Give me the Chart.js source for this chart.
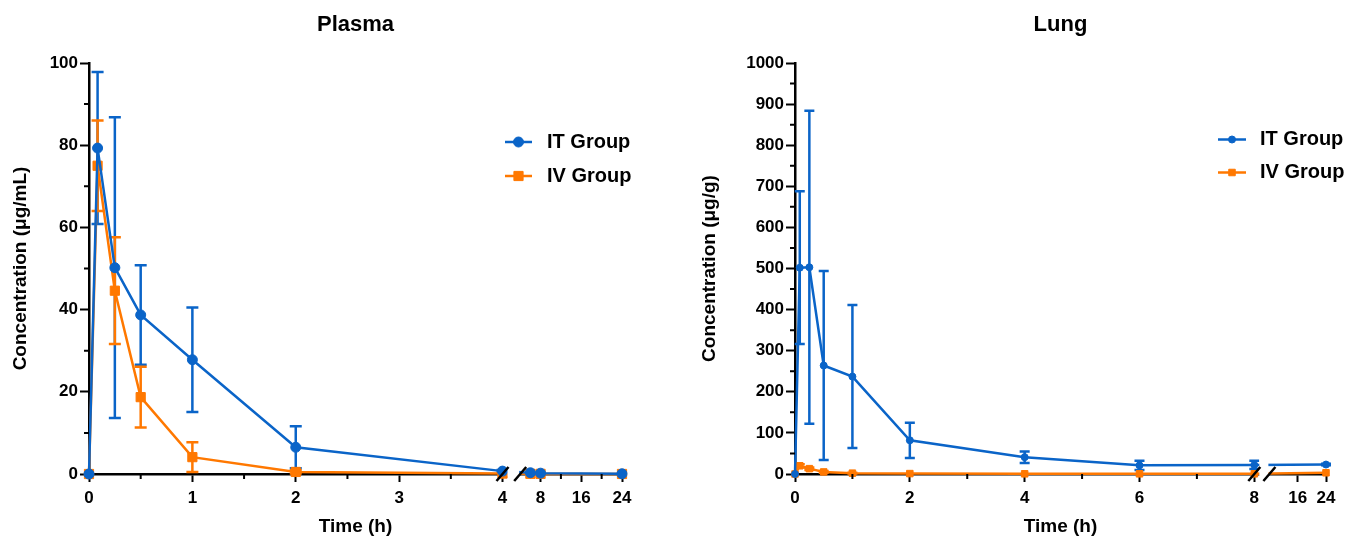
<!DOCTYPE html>
<html>
<head>
<meta charset="utf-8">
<script src="https://cdn.jsdelivr.net/npm/chart.js@4.4.0/dist/chart.umd.min.js"></script>
<style>
  body { margin: 0; background: #fff; }
  #wrap { position: relative; width: 1354px; height: 538px; }
  canvas { position: absolute; top: 0; }
</style>
</head>
<body>
<div id="wrap">
  <canvas id="plasma" width="680" height="538" style="left:0"></canvas>
  <canvas id="lung" width="674" height="538" style="left:680px"></canvas>
</div>
<script>
// sampling times (h)
const times = [0, 0.083, 0.25, 0.5, 1, 2, 4, 6, 8, 24];
const groupLabels = ['IT Group', 'IV Group'];

// plasma, ug/mL (mean, SD)
const plasmaIT   = [0, 79.3, 50.2, 38.7, 27.8, 6.5, 0.7, 0.3, 0.2, 0.05];
const plasmaITSd = [0, 18.5, 36.6, 12.1, 12.7, 5.1, 0.3, 0, 0, 0];
const plasmaIV   = [0, 75.0, 44.6, 18.7, 4.1, 0.5, 0.1, 0.05, 0.03, 0.01];
const plasmaIVSd = [0, 11.0, 13.0, 7.4, 3.6, 0.4, 0, 0, 0, 0];

// lung, ug/g (mean, SD)
const lungIT   = [0, 502, 503, 264, 237, 82, 41, 21, 22, 23];
const lungITSd = [0, 186, 381, 230, 174, 43, 14, 11, 10, 2];
const lungIV   = [0, 20, 13, 5, 2, 1, 0.5, 0.5, 0.5, 3];
const lungIVSd = [0, 4, 3, 2, 1, 0, 0, 0, 0, 0];

// axis ticks
const plasmaXTicks = [0, 1, 2, 3, 4, 8, 16, 24];
const plasmaXMinor = [0.5, 1.5, 2.5, 3.5, 12, 20];
const plasmaYMinor = [10, 30, 50, 70, 90];
const lungXTicks = [0, 2, 4, 6, 8, 16, 24];
const lungXMinor = [1, 3, 5, 7];
const lungYMinor = [50, 150, 250, 350, 450, 550, 650, 750, 850, 950];

const BLUE = '#0a64c8';
const ORANGE = '#ff7800';
const FONT = "'Liberation Sans', Arial, sans-serif";

// linear scale with one break: [min, at] -> [0, end], [at, max] -> [start, 1]
class BrokenScale extends Chart.LinearScale {
  getPixelForValue(value) {
    const b = this.options.brk;
    let dec;
    if (value <= b.at) dec = (value - this.min) / (b.at - this.min) * b.end;
    else dec = b.start + (value - b.at) / (this.max - b.at) * (1 - b.start);
    return this.getPixelForDecimal(dec);
  }
  getValueForPixel(pixel) {
    const b = this.options.brk;
    const dec = this.getDecimalForPixel(pixel);
    if (dec <= b.end) return this.min + dec / b.end * (b.at - this.min);
    return b.at + (dec - b.start) / (1 - b.start) * (this.max - b.at);
  }
}
BrokenScale.id = 'broken';
BrokenScale.defaults = Chart.LinearScale.defaults;
Chart.register(BrokenScale);

const pts = (vals) => times.map((t, i) => ({x: t, y: vals[i]}));

function errorBars(cap) {
  return {
    id: 'errorBars',
    beforeDatasetsDraw(chart) {
      const {ctx, scales: {x, y}} = chart;
      chart.data.datasets.forEach(ds => {
        ctx.save();
        ctx.strokeStyle = ds.borderColor;
        ctx.lineWidth = 2.5;
        ctx.beginPath();
        ds.data.forEach((p, i) => {
          const sd = ds.sd[i];
          if (!sd) return;
          const px = x.getPixelForValue(p.x);
          const y1 = y.getPixelForValue(p.y + sd);
          const y2 = y.getPixelForValue(Math.max(p.y - sd, 0));
          ctx.moveTo(px, y1); ctx.lineTo(px, y2);
          ctx.moveTo(px - cap / 2, y1); ctx.lineTo(px + cap / 2, y1);
          ctx.moveTo(px - cap / 2, y2); ctx.lineTo(px + cap / 2, y2);
        });
        ctx.stroke();
        ctx.restore();
      });
    }
  };
}

function axisBreak(skip) {
  return {
    id: 'axisBreak',
    afterDatasetsDraw(chart) {
      const {ctx, chartArea: a, scales: {x}} = chart;
      const b = x.options.brk;
      const pL = x.getPixelForDecimal(b.end), pR = x.getPixelForDecimal(b.start);
      ctx.save();
      ctx.fillStyle = '#fff';
      ctx.fillRect(pL + skip, a.top - 5, pR - pL - skip - 1, a.bottom - a.top + 7);
      ctx.strokeStyle = '#000';
      ctx.lineWidth = 2.5;
      [pL, pR].forEach(px => {
        ctx.beginPath();
        ctx.moveTo(px - 6, a.bottom + 7);
        ctx.lineTo(px + 6, a.bottom - 7);
        ctx.stroke();
      });
      ctx.restore();
    }
  };
}

function minorTicks(xs, ys, len) {
  return {
    id: 'minorTicks',
    afterDraw(chart) {
      const {ctx, chartArea: a, scales: {x, y}} = chart;
      ctx.save();
      ctx.strokeStyle = '#000';
      ctx.lineWidth = 2;
      ctx.beginPath();
      xs.forEach(v => { const px = x.getPixelForValue(v); ctx.moveTo(px, a.bottom); ctx.lineTo(px, a.bottom + len); });
      ys.forEach(v => { const py = y.getPixelForValue(v); ctx.moveTo(a.left, py); ctx.lineTo(a.left - len, py); });
      ctx.stroke();
      ctx.restore();
    }
  };
}

function sideLegend(lx, ly, step, len, pad) {
  return {
    id: 'sideLegend',
    afterDraw(chart) {
      const ctx = chart.ctx;
      chart.data.datasets.forEach((ds, i) => {
        const y = ly + i * step;
        ctx.save();
        ctx.strokeStyle = ds.borderColor;
        ctx.fillStyle = ds.backgroundColor;
        ctx.lineWidth = 2.5;
        ctx.beginPath();
        ctx.moveTo(lx, y); ctx.lineTo(lx + len, y);
        ctx.stroke();
        ctx.lineWidth = 1;
        Chart.helpers.drawPoint(ctx, {pointStyle: ds.pointStyle, radius: ds.pointRadius, borderWidth: 1}, lx + len / 2, y);
        ctx.font = 'bold 20px ' + FONT;
        ctx.fillStyle = '#000';
        ctx.textBaseline = 'middle';
        ctx.fillText(ds.label, lx + len + pad, y);
        ctx.restore();
      });
    }
  };
}

const tickFont = {family: FONT, size: 17, weight: 'bold'};
const titleFont = {family: FONT, size: 19, weight: 'bold'};

function makeChart(id, o) {
  return new Chart(document.getElementById(id), {
    type: 'line',
    data: {
      datasets: [
        {label: groupLabels[0], data: pts(o.it), sd: o.itSd, borderColor: BLUE, backgroundColor: BLUE,
         borderWidth: 2.5, pointStyle: 'circle', pointRadius: o.circle, pointBorderWidth: 1, clip: false},
        {label: groupLabels[1], data: pts(o.iv), sd: o.ivSd, borderColor: ORANGE, backgroundColor: ORANGE,
         borderWidth: 2.5, pointStyle: 'rect', pointRadius: o.square, pointBorderWidth: 1, clip: false}
      ]
    },
    options: {
      responsive: false,
      animation: false,
      layout: {padding: {left: 0, right: o.padRight, top: 0, bottom: 0}},
      plugins: {
        legend: {display: false},
        tooltip: {enabled: false},
        title: {display: true, text: o.title, color: '#000', fullSize: false,
                font: {family: FONT, size: 22, weight: 'bold'}, padding: {top: 12, bottom: 24.6}}
      },
      scales: {
        x: {
          type: 'broken', min: 0, max: 24, brk: o.brk,
          afterBuildTicks(s) { s.ticks = o.xTicks.map(v => ({value: v})); },
          ticks: {autoSkip: false, maxRotation: 0, color: '#000', font: tickFont, padding: 6, callback: v => String(v)},
          grid: {drawOnChartArea: false, tickLength: 8, tickWidth: 2, tickColor: '#000'},
          border: {color: '#000', width: 2.5},
          title: {display: true, text: 'Time (h)', color: '#000', font: titleFont, padding: {top: 0, bottom: 0}},
          afterFit(s) { s.height = 64; }
        },
        y: {
          type: 'linear', min: 0, max: o.yMax,
          ticks: {stepSize: o.yStep, color: '#000', font: tickFont, padding: 2, callback: v => String(v)},
          grid: {drawOnChartArea: false, tickLength: 9, tickWidth: 2, tickColor: '#000'},
          border: {color: '#000', width: 2.5},
          title: {display: true, text: o.yTitle, color: '#000', font: titleFont, padding: {top: o.yTitlePad, bottom: 0}},
          afterFit(s) { s.width = o.yWidth; }
        }
      }
    },
    plugins: [errorBars(o.cap), axisBreak(5), minorTicks(o.xMinor, o.yMinor, 5), sideLegend(...o.legend)]
  });
}

makeChart('plasma', {
  title: 'Plasma', it: plasmaIT, itSd: plasmaITSd, iv: plasmaIV, ivSd: plasmaIVSd,
  yMax: 100, yStep: 20, yTitle: 'Concentration (μg/mL)', yTitlePad: 9, yWidth: 89, padRight: 58,
  brk: {at: 4, end: 0.7758, start: 0.809},
  xTicks: plasmaXTicks, xMinor: plasmaXMinor, yMinor: plasmaYMinor,
  circle: 5, square: 6.5, cap: 12,
  legend: [505, 142, 34, 27, 15]
});

makeChart('lung', {
  title: 'Lung', it: lungIT, itSd: lungITSd, iv: lungIV, ivSd: lungIVSd,
  yMax: 1000, yStep: 100, yTitle: 'Concentration (μg/g)', yTitlePad: 18, yWidth: 115, padRight: 28,
  brk: {at: 8, end: 0.865, start: 0.8934},
  xTicks: lungXTicks, xMinor: lungXMinor, yMinor: lungYMinor,
  circle: 3.5, square: 4.6, cap: 10,
  legend: [538, 139.5, 33, 28, 14]
});
</script>
</body>
</html>
